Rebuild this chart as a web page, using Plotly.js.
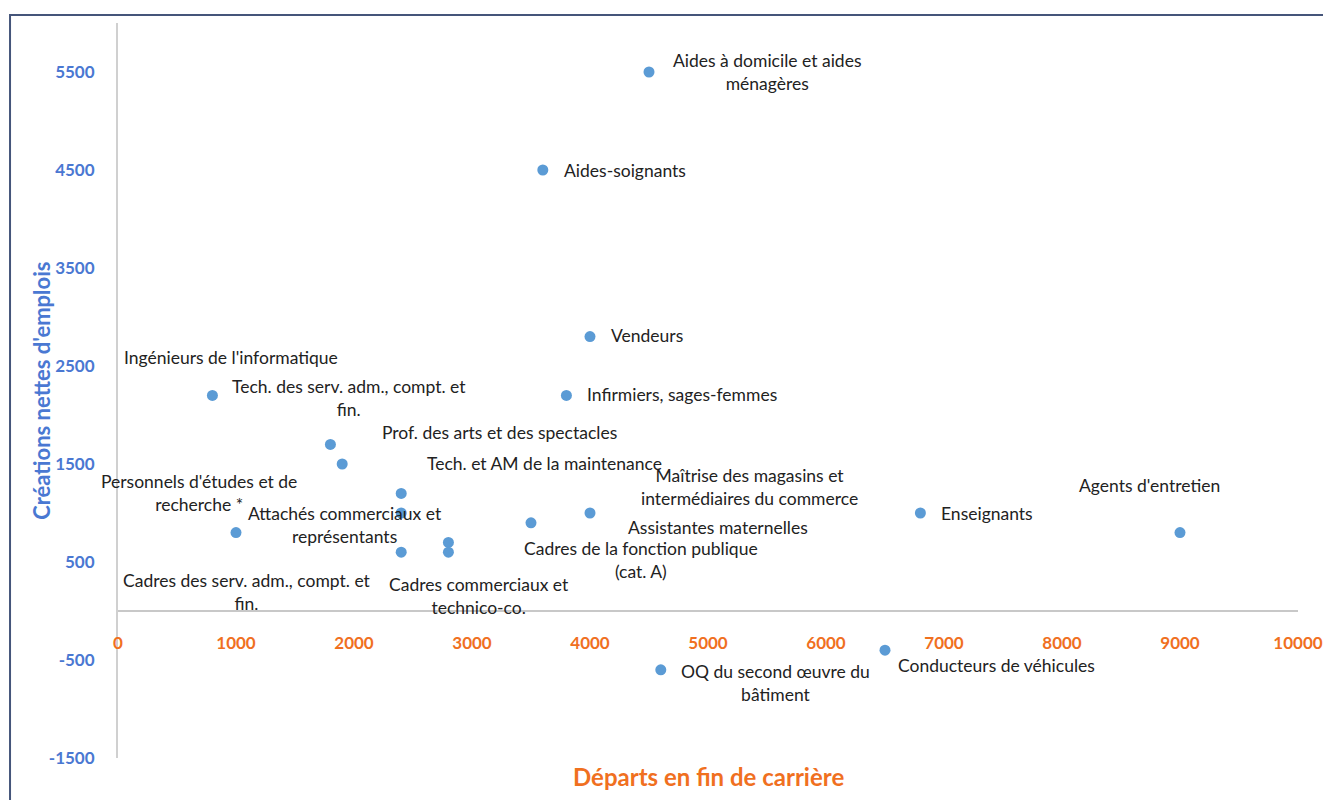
<!DOCTYPE html>
<html>
<head>
<meta charset="utf-8">
<script src="https://cdn.plot.ly/plotly-3.0.1.min.js"></script>
<style>
html,body{margin:0;padding:0;background:#fff;}
#chart{width:1323px;height:800px;}
</style>
</head>
<body>
<div id="chart"></div>
<script>
// ---- Data ----
const metiers = [
  "Aides à domicile et aides<br>ménagères",
  "Aides-soignants",
  "Vendeurs",
  "Infirmiers, sages-femmes",
  "Ingénieurs de l'informatique",
  "Tech. des serv. adm., compt. et<br>fin.",
  "Prof. des arts et des spectacles",
  "Tech. et AM de la maintenance",
  "Personnels d'études et de<br>recherche *",
  "Attachés commerciaux et<br>représentants",
  "Cadres des serv. adm., compt. et<br>fin.",
  "Cadres commerciaux et<br>technico-co.",
  "Assistantes maternelles",
  "Cadres de la fonction publique<br>(cat. A)",
  "Maîtrise des magasins et<br>intermédiaires du commerce",
  "Enseignants",
  "Agents d'entretien",
  "OQ du second œuvre du<br>bâtiment",
  "Conducteurs de véhicules"
];
const departs = [4500, 3600, 4000, 3800, 800, 1800, 1900, 2400, 1000, 2400, 2400, 2800, 2800, 3500, 4000, 6800, 9000, 4600, 6500];
const creations = [5500, 4500, 2800, 2200, 2200, 1700, 1500, 1200, 800, 1000, 600, 600, 700, 900, 1000, 1000, 800, -600, -400];

const xTicks = [0, 1000, 2000, 3000, 4000, 5000, 6000, 7000, 8000, 9000, 10000];
const yTicks = [-1500, -500, 500, 1500, 2500, 3500, 4500, 5500];

// label placement (pixel offsets from each point, anchor)
const labelPlacement = [
  [118, 0, 'center'], [19, 0, 'left'], [19, 1, 'left'], [19, 1, 'left'],
  [19, 38, 'center'], [19, 46, 'center'], [38, 32, 'left'], [24, 30, 'left'],
  [-37, 40, 'center'], [-56, -12, 'center'], [-154, -40, 'center'], [31, -44, 'center'],
  [270, 15, 'center'], [110, -37, 'center'], [159, 26, 'center'], [19, 0, 'left'],
  [-31, 47, 'center'], [115, -13, 'center'], [111, -15, 'center']
];

const blue = '#4a78d2';
const orange = '#f0701f';
const labelFont = {family: 'Lato, "Open Sans", sans-serif', size: 17.5, color: '#222'};

const annotations = metiers.map((m, i) => ({
  x: departs[i], y: creations[i], xref: 'x', yref: 'y',
  text: m, showarrow: false,
  xanchor: labelPlacement[i][2], yanchor: 'middle',
  xshift: labelPlacement[i][0], yshift: labelPlacement[i][1],
  align: 'center', font: labelFont
}));

annotations.push({
  xref: 'paper', yref: 'paper', x: 0.5, y: -0.025,
  xanchor: 'center', yanchor: 'middle', showarrow: false,
  text: '<b>Départs en fin de carrière</b>',
  font: {family: 'Lato, "Open Sans", sans-serif', size: 24, color: orange}
});
annotations.push({
  xref: 'paper', yref: 'paper', x: -0.065, y: 0.5,
  xanchor: 'center', yanchor: 'middle', showarrow: false, textangle: -90,
  text: "<b>Créations nettes d'emplois</b>",
  font: {family: 'Lato, "Open Sans", sans-serif', size: 22, color: blue}
});

const trace = {
  type: 'scatter', mode: 'markers',
  x: departs, y: creations, text: metiers,
  marker: {size: 11, color: '#5b9bd5'},
  hoverinfo: 'text+x+y', cliponaxis: false
};

const layout = {
  width: 1323, height: 800,
  margin: {l: 118, r: 25, t: 23, b: 42},
  paper_bgcolor: '#fff', plot_bgcolor: '#fff',
  showlegend: false,
  xaxis: {
    range: [0, 10000], tickvals: xTicks, ticktext: xTicks.map(String),
    anchor: 'free', position: 0.2,
    showgrid: false, zeroline: false, showline: true,
    linecolor: '#c8c8c8', linewidth: 2, ticks: '',
    ticklabelstandoff: 17,
    tickfont: {family: 'Lato, "Open Sans", sans-serif', size: 17, color: orange, weight: 'bold'}
  },
  yaxis: {
    range: [-1500, 6000], tickvals: yTicks, ticktext: yTicks.map(String),
    showgrid: false, zeroline: false, showline: true,
    linecolor: '#d0d0d0', linewidth: 2, ticks: '',
    ticklabelstandoff: 18,
    tickfont: {family: 'Lato, "Open Sans", sans-serif', size: 17, color: blue, weight: 'bold'}
  },
  annotations: annotations,
  shapes: [{
    type: 'rect', xref: 'paper', yref: 'paper',
    x0: -0.0915, x1: 1.05, y0: -0.1, y1: 1.0109,
    line: {color: '#45557a', width: 2}, fillcolor: 'rgba(0,0,0,0)', layer: 'below'
  }]
};

Plotly.newPlot('chart', [trace], layout, {displayModeBar: false, staticPlot: true});
</script>
</body>
</html>
